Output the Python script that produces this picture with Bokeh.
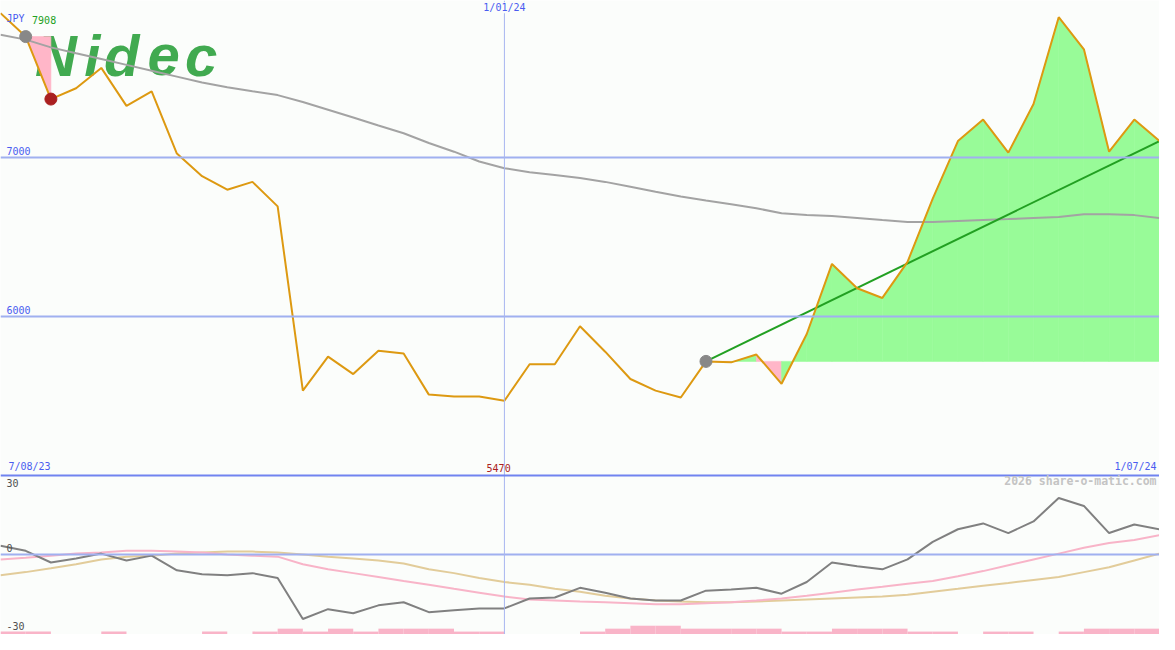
from bokeh.plotting import figure
from bokeh.models import Range1d, Span, Label, ColumnDataSource
from bokeh.embed import file_html
from bokeh.resources import INLINE

# ---------------- data ----------------
# weekly closes, 7/08/23 .. 1/07/24 (JPY)
price = [7908, 7761, 7368, 7436, 7564, 7325, 7417, 7025, 6883, 6798, 6847, 6693,
         5534, 5748, 5638, 5785, 5767, 5509, 5497, 5497, 5470, 5700, 5700, 5939,
         5779, 5607, 5534, 5491, 5718, 5712, 5761, 5577, 5890, 6331, 6178, 6117,
         6344, 6742, 7104, 7239, 7031, 7337, 7883, 7681, 7037, 7239, 7104]
# long moving average
ma_long = [7773, 7742, 7693, 7656, 7620, 7583, 7546, 7509, 7472, 7442, 7417, 7393,
           7350, 7301, 7252, 7202, 7153, 7092, 7037, 6975, 6933, 6908, 6890, 6871,
           6847, 6816, 6785, 6755, 6730, 6706, 6681, 6650, 6638, 6632, 6620, 6607,
           6595, 6595, 6601, 6607, 6613, 6620, 6626, 6644, 6644, 6638, 6620]
# oscillator panel
osc = [3.5, 1.5, -3.1, -1.5, 0.4, -2.3, -0.4, -6.2, -7.7, -8.1, -7.3, -9.2,
       -25.4, -21.5, -23.1, -20.0, -18.8, -22.7, -21.9, -21.2, -21.2, -17.3, -16.9, -13.1,
       -15.0, -17.3, -18.1, -18.1, -14.2, -13.8, -13.1, -15.4, -10.8, -3.1, -4.6, -5.8,
       -1.9, 5.0, 10.0, 12.3, 8.5, 13.1, 22.3, 19.2, 8.5, 11.9, 10.0]
osc_fast = [-1.9, -1.2, -0.4, 0.4, 0.8, 1.5, 1.5, 1.2, 0.8, 0.0, -0.4, -0.8,
            -3.8, -5.8, -7.3, -8.8, -10.4, -11.9, -13.5, -15.0, -16.5, -17.7, -18.1, -18.5,
            -18.8, -19.2, -19.6, -19.6, -19.2, -18.8, -18.1, -17.3, -16.2, -15.0, -13.8, -12.7,
            -11.5, -10.4, -8.5, -6.5, -4.2, -1.9, 0.4, 2.7, 4.6, 5.8, 7.7]
osc_slow = [-8.1, -6.9, -5.4, -3.8, -1.9, -0.8, -0.4, 0.4, 0.8, 1.2, 1.2, 0.8,
            0.0, -0.8, -1.5, -2.3, -3.5, -5.8, -7.3, -9.2, -10.8, -11.9, -13.5, -14.6,
            -16.2, -17.3, -18.1, -18.5, -18.8, -18.8, -18.5, -18.1, -17.7, -17.3, -16.9, -16.5,
            -15.8, -14.6, -13.5, -12.3, -11.2, -10.0, -8.8, -6.9, -5.0, -2.3, 0.4]
# volume level per week (bars between consecutive weeks)
vol = [1, 1, 0, 0, 1, 0, 0, 0, 1, 0,
       1, 2, 1, 2, 1, 2, 2, 2, 1, 1,
       0, 0, 0, 1, 2, 3, 3, 2, 2, 2,
       2, 1, 1, 2, 2, 2, 1, 1, 0, 1,
       1, 0, 1, 2, 2, 2]
grid_levels = [7000, 6000]
date_first, date_mid, date_last = "7/08/23", "1/01/24", "1/07/24"
mid_index = 20
trend_start = 28
marker_gray = [1, 28]
marker_red = [2]
pink_start = 1
logo_letters = ["N", "i", "d", "e", "c"]
logo_left = [35, 85, 105, 149, 187]   # reference-pixel left edges of the logo letters

# ---------------- styling ----------------
W, H = 1159, 634
RW, RH = 1175.0, 650.0
SXF, SYF = W / RW, H / RH
def sx(px):
    return px * SXF
def sy(py):
    return (RH - py) * SYF

BG = "#fbfdfb"
BLUE_TXT = "#4a5cf0"
MONO = "DejaVu Sans Mono"
n = len(price)
x = list(range(n))

p = figure(width=W, height=H, x_range=Range1d(0, n - 1), y_range=Range1d(4000, 7988),
           output_backend="svg", toolbar_location=None, min_border=0,
           x_axis_location=None, y_axis_location=None,
           background_fill_color=BG, border_fill_color=BG, outline_line_color=None)
p.grid.visible = False
p.extra_y_ranges = {"osc": Range1d(-31.5, 218.5), "vol": Range1d(0, RH / 3.0)}

# logo (under the glyphs); alphabetic baseline keeps the letters aligned
for ch, lx in zip(logo_letters, logo_left):
    p.add_layout(Label(x=sx(lx), y=sy(56), x_units="screen", y_units="screen", text=ch,
                       text_font="Liberation Sans", text_font_style="bold italic",
                       text_font_size="58px", text_color="#41aa50",
                       text_baseline="alphabetic", level="underlay"))

# grid lines
for g in grid_levels:
    p.add_layout(Span(location=g, dimension="width", line_color="#a0b0f0", line_width=2))
p.add_layout(Span(location=0, dimension="width", y_range_name="osc",
                  line_color="#a0b0f0", line_width=2))
p.add_layout(Span(location=mid_index, dimension="height", line_color="#a8b6f0", line_width=1))

# fills relative to reference levels
xs, ys, cols = [], [], []
def add_seg(i, base):
    xs.append([i, i, i + 1, i + 1])
    ys.append([base, price[i], price[i + 1], base])
    cols.append("#98fb98" if price[i + 1] >= base else "#ffb6c8")
add_seg(pink_start, price[pink_start])
for i in range(trend_start, n - 1):
    add_seg(i, price[trend_start])
p.patches(xs="xs", ys="ys", source=ColumnDataSource(dict(xs=xs, ys=ys, c=cols)),
          fill_color="c", line_color="c", line_width=0.6)

# volume bars
vsrc = ColumnDataSource(dict(left=list(range(len(vol))), right=[i + 1 for i in range(len(vol))],
                             top=vol, bottom=[0] * len(vol)))
p.quad(left="left", right="right", top="top", bottom="bottom", source=vsrc,
       y_range_name="vol", fill_color="#f9b4c8", line_color=None)

# oscillator lines
p.line(x, osc_slow, y_range_name="osc", line_color="#e2cc9a", line_width=2)
p.line(x, osc_fast, y_range_name="osc", line_color="#f8b4c8", line_width=2)
p.line(x, osc, y_range_name="osc", line_color="#808080", line_width=2)

# price panel lines
p.line(x, ma_long, line_color="#a3a3a3", line_width=2)
p.line([trend_start, n - 1], [price[trend_start], price[n - 1]], line_color="#22a022", line_width=2)
p.line(x, price, line_color="#dd9911", line_width=2)
p.scatter(marker_gray, [price[i] for i in marker_gray], size=12, color="#888888")
p.scatter(marker_red, [price[i] for i in marker_red], size=12, color="#aa2020")

# separator between panels
p.add_layout(Span(location=5000, dimension="width", line_color="#7083f0", line_width=2))

def lab(px, py, text, color, align="left", size="10px", style="normal", bg=None):
    p.add_layout(Label(x=sx(px), y=sy(py), x_units="screen", y_units="screen", text=text,
                       text_font=MONO, text_font_size=size, text_color=color,
                       text_align=align, text_font_style=style,
                       background_fill_color=bg))

lab(6, 24, "JPY", BLUE_TXT)
lab(32, 24, str(max(price)), "#22a022")
lab(mid_index * RW / (n - 1), 13, date_mid, BLUE_TXT, align="center", bg=BG)
for g in grid_levels:
    lab(6, 161 + (7000 - g) * 0.163 - 3, str(g), BLUE_TXT)
lab(8, 483, date_first, BLUE_TXT)
lab(505, 483, str(min(price)), "#aa2020", align="center")
lab(1172, 483, date_last, BLUE_TXT, align="right")
lab(1172, 500, "2026 share-o-matic.com", "#c4c4c4", align="right", size="11.5px", style="bold")
lab(6, 499, "30", "#505050")
lab(6, 565, "0", "#505050")
lab(6, 645, "-30", "#505050")

open("out.html", "w").write(file_html(p, INLINE))
